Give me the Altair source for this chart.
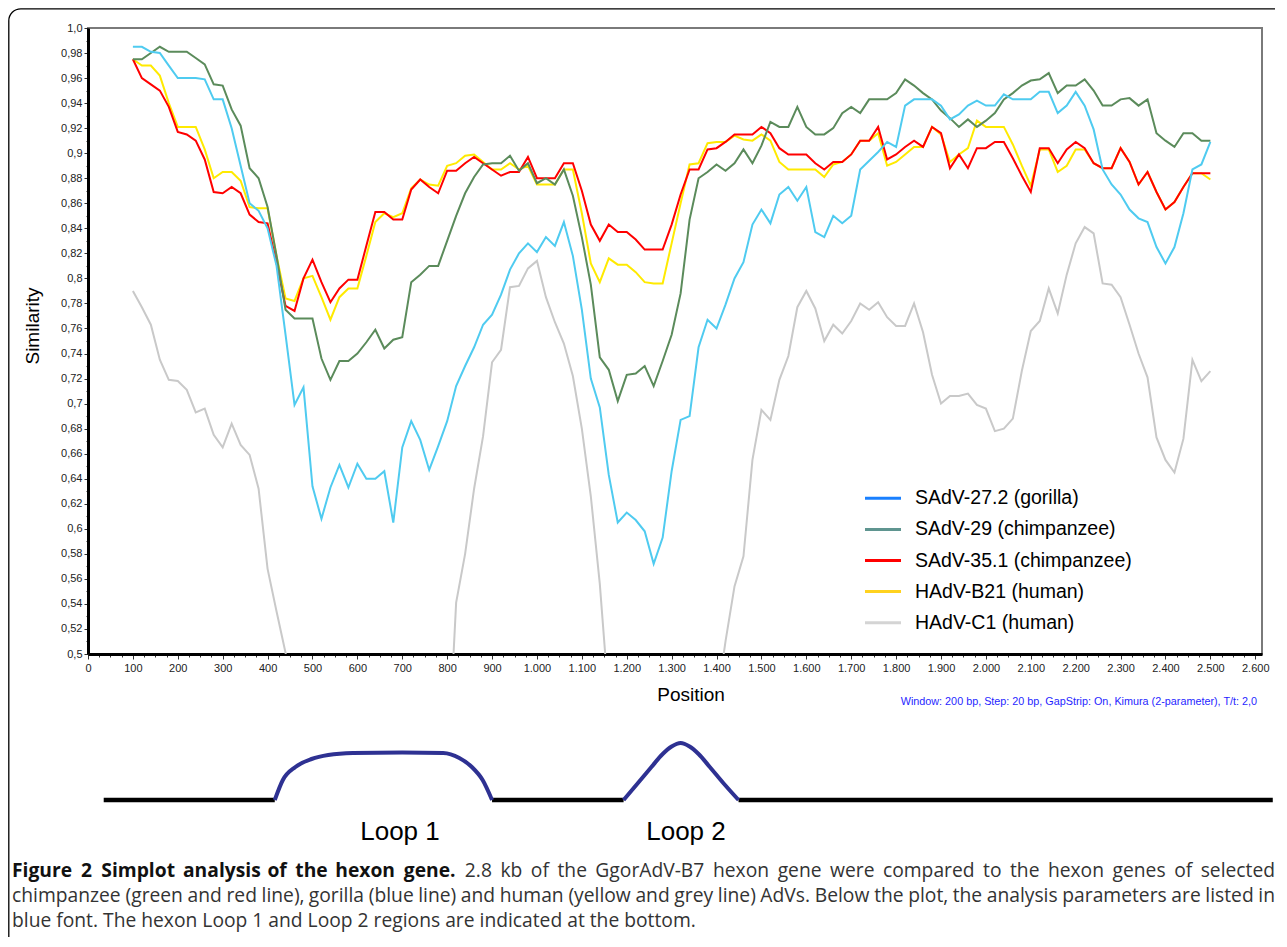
import altair as alt
import pandas as pd

# ---------------- data ----------------
positions = list(range(100, 2501, 20))

sadv27_2 = [
    .985, .985, .981, .980, .970, .960, .960, .960, .959, .943,
    .943, .920, .890, .860, .854, .840, .810, .755, .699, .713,
    .634, .608, .633, .651, .633, .652, .640, .640, .646, .605,
    .665, .686, .671, .647, .666, .686, .714, .730, .745, .763,
    .771, .787, .807, .820, .828, .821, .833, .826, .845, .818,
    .775, .720, .697, .643, .605, .613, .607, .598, .572, .593,
    .646, .687, .690, .745, .767, .760, .779, .800, .813, .843,
    .855, .844, .867, .873, .862, .873, .837, .833, .850, .844,
    .850, .887, .894, .901, .909, .905, .938, .943, .943, .943,
    .938, .927, .931, .938, .942, .938, .938, .947, .943, .943,
    .943, .949, .949, .932, .938, .949, .938, .919, .887, .875,
    .867, .855, .848, .845, .825, .812, .825, .852, .887, .891,
    .909]

sadv29 = [
    .975, .975, .980, .985, .981, .981, .981, .976, .971, .955,
    .954, .935, .922, .888, .880, .857, .818, .775, .768, .768,
    .768, .736, .719, .734, .734, .740, .749, .759, .744, .751,
    .753, .797, .803, .810, .810, .830, .850, .868, .881, .891,
    .892, .892, .898, .886, .892, .876, .880, .875, .887, .866,
    .833, .795, .737, .727, .702, .723, .724, .730, .714, .734,
    .755, .788, .847, .880, .885, .891, .886, .892, .903, .892,
    .906, .925, .921, .921, .937, .921, .915, .915, .920, .932,
    .937, .932, .943, .943, .943, .948, .959, .954, .948, .943,
    .934, .928, .921, .927, .921, .926, .932, .943, .948, .954,
    .958, .959, .964, .948, .954, .954, .959, .950, .938, .938,
    .943, .944, .938, .943, .916, .910, .905, .916, .916, .910,
    .910]

sadv35_1 = [
    .975, .960, .955, .950, .937, .917, .915, .910, .895, .869,
    .868, .873, .868, .851, .845, .844, .812, .778, .774, .800,
    .815, .797, .781, .792, .799, .799, .826, .853, .853, .847,
    .847, .871, .879, .873, .868, .886, .886, .892, .897, .892,
    .887, .882, .885, .885, .897, .880, .880, .880, .892, .892,
    .870, .843, .830, .843, .837, .837, .831, .823, .823, .823,
    .843, .867, .887, .887, .903, .904, .909, .915, .915, .915,
    .921, .916, .904, .899, .899, .899, .892, .887, .893, .893,
    .899, .910, .910, .921, .895, .899, .905, .910, .905, .921,
    .916, .888, .899, .888, .904, .904, .909, .909, .896, .882,
    .869, .904, .904, .892, .903, .909, .904, .892, .888, .888,
    .904, .893, .875, .885, .869, .855, .861, .873, .884, .884,
    .884]

hadv_b21 = [
    .975, .970, .970, .962, .940, .921, .921, .921, .903, .880,
    .885, .885, .878, .857, .856, .856, .818, .784, .782, .800,
    .802, .785, .767, .785, .792, .792, .818, .845, .852, .849,
    .852, .872, .879, .875, .874, .890, .892, .898, .899, .893,
    .887, .887, .892, .887, .890, .875, .875, .875, .887, .887,
    .852, .812, .797, .816, .811, .811, .805, .797, .796, .796,
    .828, .860, .891, .892, .908, .909, .909, .914, .911, .910,
    .915, .910, .893, .887, .887, .887, .887, .881, .891, .893,
    .899, .910, .910, .916, .890, .893, .899, .905, .905, .921,
    .915, .893, .899, .904, .926, .921, .921, .921, .907, .890,
    .874, .903, .903, .885, .890, .903, .903, .892, .888, .888,
    .904, .893, .875, .885, .869, .855, .861, .873, .884, .884,
    .879]

hadv_c1 = [
    .790, .777, .763, .735, .719, .718, .711, .693, .696, .675,
    .665, .684, .667, .659, .632, .568, .534, .501, .460, None,
    None, None, None, None, None, None, None, None, None, None,
    None, None, None, None, None, .400, .541, .580, .632, .674,
    .733, .743, .793, .794, .808, .814, .785, .765, .748, .722,
    .680, .626, .556, .463, None, None, None, None, None, None,
    None, None, None, None, None, .460, .510, .554, .578, .655,
    .695, .687, .719, .738, .777, .790, .776, .750, .763, .756,
    .766, .780, .775, .781, .769, .762, .762, .780, .757, .723,
    .700, .706, .706, .708, .699, .696, .678, .680, .688, .726,
    .758, .766, .792, .772, .803, .828, .841, .836, .796, .795,
    .785, .763, .740, .721, .673, .655, .645, .672, .735, .718,
    .726]

series_names = ["SAdV-27.2 (gorilla)", "SAdV-29 (chimpanzee)",
                "SAdV-35.1 (chimpanzee)", "HAdV-B21 (human)", "HAdV-C1 (human)"]
series_values = [sadv27_2, sadv29, sadv35_1, hadv_b21, hadv_c1]
line_colors = ["#4fcbf0", "#5b8b5b", "#ff0000", "#ffea00", "#c9c9c9"]
legend_colors = ["#1a80ff", "#5f9590", "#ff0000", "#ffd21f", "#d4d4d4"]
draw_order = [4, 3, 2, 1, 0]

x_ticks = list(range(0, 2601, 25))
y_ticks = [round(0.5 + 0.01 * i, 2) for i in range(51)]

params_text = "Window: 200 bp, Step: 20 bp, GapStrip: On, Kimura (2-parameter), T/t: 2,0"

loop_names = ["Loop 1", "Loop 2"]
loop1_pos = [416, 434, 462, 498, 535, 590, 700, 791, 827, 855, 879, 900]
loop1_rise = [0, 20, 33, 41, 45, 47, 47.5, 47, 42, 33, 20, 0]
loop2_pos = [1193, 1225, 1255, 1280, 1300, 1320, 1340, 1360, 1385, 1415, 1449]
loop2_rise = [0, 17, 33, 46, 53.5, 57, 53.5, 46, 33, 17, 0]
baseline_start = [35, 900, 1449]
baseline_end = [416, 1193, 2639]

caption_bold = "Figure 2 Simplot analysis of the hexon gene."
caption_line1 = "2.8 kb of the GgorAdV-B7 hexon gene were compared to the hexon genes of selected"
caption_line2 = ("chimpanzee (green and red line), gorilla (blue line) and human (yellow and grey line) "
                 "AdVs. Below the plot, the analysis parameters are listed in")
caption_line3 = "blue font. The hexon Loop 1 and Loop 2 regions are indicated at the bottom."

# ---------------- layout helpers ----------------
OX, OY = 88, 28          # page position of the plot origin
W, H = 1174, 626
X_MAX = 2615
PAD_L, PAD_T = OX - 8, OY - 8

dummy = pd.DataFrame({"a": [0]})
x_scale = alt.Scale(domain=[0, X_MAX], nice=False, zero=False)
y_scale = alt.Scale(domain=[0.5, 1.0], nice=False, zero=False)

rows = []
for name, vals in zip(series_names, series_values):
    seg = 0
    for p, v in zip(positions, vals):
        if v is None:
            seg += 1
            continue
        rows.append({"pos": p, "sim": v, "series": name, "seg": seg})
lines_df = pd.DataFrame(rows)

x_axis = alt.Axis(
    values=x_ticks, title="", grid=False,
    labelExpr="datum.value % 100 == 0 ? replace(format(datum.value, ','), ',', '.') : ''",
    tickSize={"condition": {"test": "datum.value % 100 == 0", "value": 5}, "value": 3},
    tickColor="#333", domainColor="#000", domainWidth=3,
    labelFont="Liberation Sans", labelFontSize=11, labelColor="#222",
    labelPadding=3, labelOverlap=False, labelFlush=False, labelBound=False)
y_axis = alt.Axis(
    values=y_ticks, title="", grid=False,
    labelExpr=("round(datum.value * 100) % 2 == 0 ? (datum.value > 0.995 ? '1,0' : "
               "replace(format(datum.value, '.2~f'), '.', ',')) : ''"),
    tickSize={"condition": {"test": "round(datum.value * 100) % 2 == 0", "value": 4}, "value": 2},
    tickColor="#333", domainColor="#000", domainWidth=3,
    labelFont="Liberation Sans", labelFontSize=11, labelColor="#222",
    labelPadding=2, labelOverlap=False, labelFlush=False, labelBound=False)

layers = []

# outer rounded frame (svg starts at page x=8, y=8)
layers.append(alt.Chart(dummy).mark_rect(fill="transparent", stroke="#000", strokeWidth=1.3,
                                         cornerRadius=12).encode(
    x=alt.value(-PAD_L + 0.8), x2=alt.value(1292 - OX),
    y=alt.value(-PAD_T + 0.8), y2=alt.value(948 - OY)))

# similarity lines
first = True
for idx in draw_order:
    name = series_names[idx]
    sub = lines_df[lines_df.series == name]
    enc = dict(
        x=alt.X("pos:Q", scale=x_scale, axis=x_axis if first else None),
        y=alt.Y("sim:Q", scale=y_scale, axis=y_axis if first else None),
        detail="seg:N",
    )
    layers.append(alt.Chart(sub).mark_line(color=line_colors[idx], strokeWidth=2, clip=True)
                  .encode(**enc))
    first = False

# custom legend
legend_df = pd.DataFrame({"name": series_names,
                          "ly": [498.3 - OY + 31.1 * i for i in range(len(series_names))]})
layers.append(alt.Chart(legend_df).mark_rule(strokeWidth=3).encode(
    x=alt.value(865 - OX), x2=alt.value(901 - OX),
    y=alt.Y("ly:Q", scale=None, axis=None),
    color=alt.Color("name:N", scale=alt.Scale(domain=series_names, range=legend_colors), legend=None)))
layers.append(alt.Chart(legend_df).mark_text(align="left", baseline="middle", fontSize=19.5,
                                             font="Liberation Sans", color="#000").encode(
    x=alt.value(915 - OX), y=alt.Y("ly:Q", scale=None, axis=None), text="name:N"))


def txt(t, x, y, **kw):
    return alt.Chart(dummy).mark_text(text=t, **kw).encode(x=alt.value(x - OX), y=alt.value(y - OY))


layers.append(txt("Similarity", 33, 326, angle=270, fontSize=19, font="Liberation Sans",
                  baseline="middle", align="center", color="#000"))
layers.append(txt("Position", 691, 695, fontSize=19, font="Liberation Sans",
                  baseline="middle", align="center", color="#000"))
layers.append(txt(params_text, 1257, 702, fontSize=10.8, font="Liberation Sans",
                  baseline="middle", align="right", color="#1f1fff"))

# loop diagram
base_df = pd.DataFrame({"start": baseline_start, "end": baseline_end})
layers.append(alt.Chart(base_df).mark_rule(strokeWidth=4.5, color="#000").encode(
    x=alt.X("start:Q", scale=x_scale, axis=None), x2="end:Q", y=alt.value(800 - OY)))
loop_rows = []
for nm, ps, rs in zip(loop_names, [loop1_pos, loop2_pos], [loop1_rise, loop2_rise]):
    for p, r in zip(ps, rs):
        loop_rows.append({"loop": nm, "pos": p, "py": 800 - OY - r})
loop_df = pd.DataFrame(loop_rows)
layers.append(alt.Chart(loop_df).mark_line(interpolate="monotone", strokeWidth=4,
                                           color="#2e3192").encode(
    x=alt.X("pos:Q", scale=x_scale, axis=None),
    y=alt.Y("py:Q", scale=None, axis=None), detail="loop:N"))
layers.append(txt(loop_names[0], 400, 832, fontSize=26, font="Liberation Sans",
                  baseline="middle", align="center", color="#000"))
layers.append(txt(loop_names[1], 686, 832, fontSize=26, font="Liberation Sans",
                  baseline="middle", align="center", color="#000"))

# caption (justified lines 1 and 2)
OS = {' ': .26, 'a': .556, 'b': .613, 'c': .476, 'd': .613, 'e': .561, 'f': .339, 'g': .548,
      'h': .614, 'i': .253, 'j': .253, 'k': .525, 'l': .253, 'm': .930, 'n': .614, 'o': .604,
      'p': .613, 'q': .613, 'r': .408, 's': .477, 't': .353, 'u': .614, 'v': .501, 'w': .778,
      'x': .524, 'y': .502, 'z': .477, '.': .266, ',': .245, '(': .287, ')': .287, '-': .322,
      ':': .266, '/': .367, 'A': .633, 'B': .648, 'C': .631, 'D': .729, 'F': .556, 'G': .728,
      'L': .534, 'S': .549, 'T': .553, 'V': .595, 'H': .738, 'I': .279, 'O': .779, 'K': .62}


def em(s, bold=False):
    t = sum(OS.get(c, .572 if c.isdigit() else .55) for c in s)
    return t * (1.07 if bold else 1.0)


tokens1 = [(w, True) for w in caption_bold.split()] + [(w, False) for w in caption_line1.split()]
tokens2 = [(w, False) for w in caption_line2.split()]
CX0, CX1 = 12, 1275
fs = 685 / em(caption_line3)
for toks in (tokens1, tokens2):
    need = sum(em(w, b) for w, b in toks) + 0.2 * (len(toks) - 1)
    fs = min(fs, (CX1 - CX0) / need)

cap_rows = []
for toks, cy in ((tokens1, 871), (tokens2, 896)):
    widths = [fs * em(w, b) for w, b in toks]
    gap = ((CX1 - CX0) - sum(widths)) / (len(toks) - 1)
    x = CX0
    for i, ((w, b), wd) in enumerate(zip(toks, widths)):
        last = i == len(toks) - 1
        cap_rows.append({"w": w, "bold": b, "last": last,
                         "cx": (CX1 if last else x) - OX, "cy": cy - OY})
        x += wd + gap
cap_df = pd.DataFrame(cap_rows)
for sel, align, weight, col in (((~cap_df.bold) & (~cap_df["last"]), "left", "normal", "#333"),
                                (cap_df.bold, "left", "bold", "#111"),
                                (cap_df["last"], "right", "normal", "#333")):
    layers.append(alt.Chart(cap_df[sel]).mark_text(align=align, baseline="middle", fontSize=fs,
                                                   font="Open Sans", fontWeight=weight, color=col)
                  .encode(x=alt.X("cx:Q", scale=None, axis=None),
                          y=alt.Y("cy:Q", scale=None, axis=None), text="w:N"))
layers.append(txt(caption_line3, CX0, 921, fontSize=fs, font="Open Sans",
                  baseline="middle", align="left", color="#333"))

chart = alt.layer(*layers).resolve_scale(x="independent", y="independent").properties(
    width=W, height=H,
    autosize=alt.AutoSizeParams(type="none"),
    padding={"left": PAD_L, "top": PAD_T, "right": 13, "bottom": 283},
    background="white",
).configure_view(stroke="#7a7a7a", strokeWidth=2)

chart.save("out.html", embed_options={"renderer": "svg", "actions": False})
